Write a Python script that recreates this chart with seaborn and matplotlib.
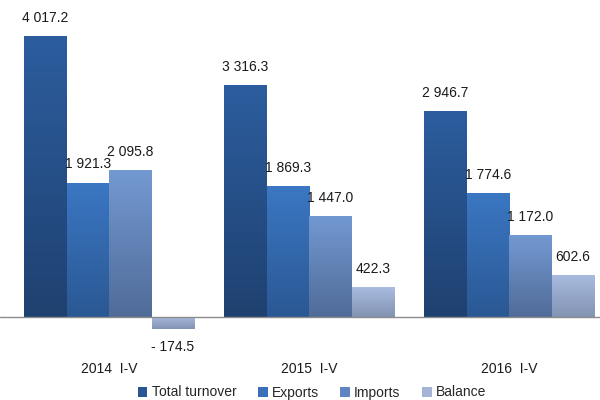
import numpy as np
import pandas as pd
import matplotlib
matplotlib.use("Agg")
import matplotlib.pyplot as plt
from matplotlib.colors import LinearSegmentedColormap
from matplotlib.patches import Patch
import seaborn as sns

# data
periods = ["2014  I-V", "2015  I-V", "2016  I-V"]
series = ["Total turnover", "Exports", "Imports", "Balance"]
total = [4017.2, 3316.3, 2946.7]
exports = [1921.3, 1869.3, 1774.6]
imports = [2095.8, 1447.0, 1172.0]
balance = [-174.5, 422.3, 602.6]

# gradient colours (top, bottom) and legend swatch colours
grad = {
    "Total turnover": ("#2c5d9e", "#1f4170"),
    "Exports": ("#3b77c3", "#2a5894"),
    "Imports": ("#7399d2", "#506b98"),
    "Balance": ("#a9bce0", "#8293b3"),
}
swatch = ["#2a5595", "#3a6fba", "#5f85c3", "#a3b4d6"]

df = pd.DataFrame({
    "period": np.repeat(periods, len(series)),
    "series": series * len(periods),
    "value": np.ravel(np.column_stack([total, exports, imports, balance])),
})

sns.set_theme(style="white")
plt.rcParams["font.family"] = ["Liberation Sans", "DejaVu Sans"]

fig = plt.figure(figsize=(6, 4), dpi=100)
ax = fig.add_axes([0.0, 0.15, 1.0, 0.825])

sns.barplot(data=df, x="period", y="value", hue="series", hue_order=series,
            palette=swatch, width=0.85, gap=0, errorbar=None, legend=False, ax=ax)

# replace flat fills with vertical gradients
for cont, name in zip(ax.containers, series):
    cmap = LinearSegmentedColormap.from_list(name, [grad[name][1], grad[name][0]])
    for bar in cont:
        x0, w = bar.get_x(), bar.get_width()
        y0, h = bar.get_y(), bar.get_height()
        ylo, yhi = min(y0, y0 + h), max(y0, y0 + h)
        bar.set_facecolor("none")
        bar.set_edgecolor("none")
        img = ax.imshow(np.linspace(0, 1, 256).reshape(-1, 1), cmap=cmap,
                        origin="lower", aspect="auto",
                        extent=[x0, x0 + w, ylo, yhi], zorder=2)
        img.set_clip_path(bar)
    labels = [("- " if v < 0 else "") + f"{abs(v):,.1f}".replace(",", " ")
              for v in cont.datavalues]
    ax.bar_label(cont, labels=labels, padding=8, fontsize=10, color="#1a1a1a")

ax.axhline(0, color="#8c8c8c", lw=1, zorder=3)
ax.set_xlim(-0.545, 2.455)
ax.set_ylim(-329, 4389)
ax.set_xlabel("")
ax.set_ylabel("")
ax.set_yticks([])
ax.tick_params(axis="x", length=0, pad=16, labelsize=10, labelcolor="#1a1a1a")
sns.despine(ax=ax, left=True, bottom=True, top=True, right=True)

handles = [Patch(facecolor=c, edgecolor="none") for c in swatch]
fig.legend(handles, series, loc="lower center", ncol=4, frameon=False,
           fontsize=10, handlelength=0.7, handleheight=0.7, handletextpad=0.3,
           columnspacing=1.55, bbox_to_anchor=(0.52, -0.03))

fig.savefig("out.png", dpi=100)
